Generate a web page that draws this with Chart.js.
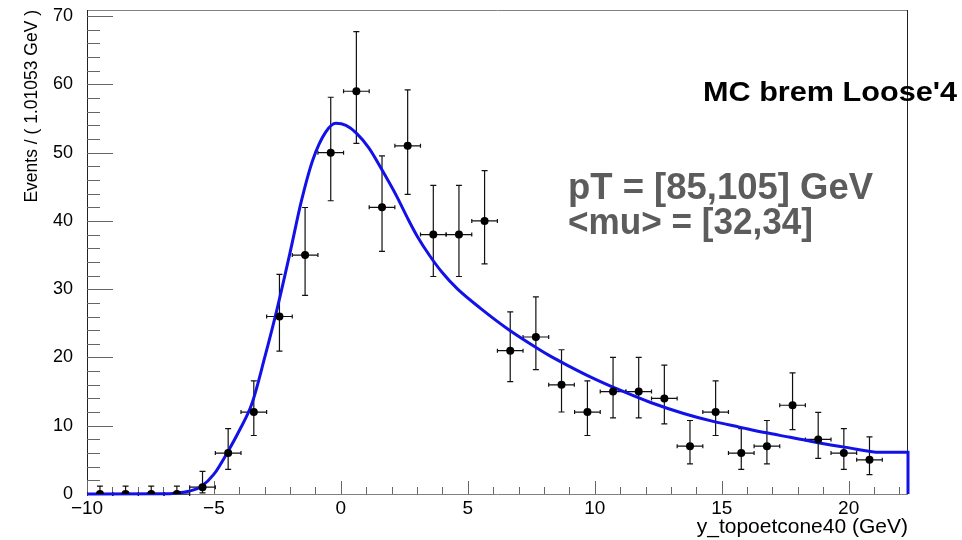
<!DOCTYPE html>
<html><head><meta charset="utf-8">
<script src="https://cdn.jsdelivr.net/npm/chart.js@4.4.1/dist/chart.umd.min.js"></script>
<style>html,body{margin:0;padding:0;background:#fff;} #wrap{width:962px;height:540px;}</style>
</head><body><div id="wrap"><canvas id="c" width="962" height="540"></canvas></div>
<script>
// ---- data ----
const binCenters = [-9.49,-8.48,-7.47,-6.46,-5.45,-4.44,-3.43,-2.42,-1.41,-0.40,0.61,1.62,2.63,3.64,4.65,5.66,6.67,7.68,8.69,9.71,10.72,11.73,12.74,13.75,14.76,15.77,16.78,17.79,18.80,19.81,20.82];
const counts     = [0,0,0,0,1,6,12,26,35,50,59,42,51,38,38,40,21,23,16,12,15,15,14,7,12,6,7,13,8,6,5];
const errLow     = [0,0,0,0,0.83,2.38,3.43,5.07,5.89,7.04,7.65,6.46,7.11,6.14,6.14,6.30,4.55,4.77,3.99,3.43,3.86,3.86,3.72,2.58,3.43,2.38,2.58,3.58,2.77,2.38,2.16];
const errHigh    = [1.15,1.15,1.15,1.15,2.30,3.58,4.58,6.17,6.97,8.12,8.72,7.53,8.19,7.22,7.22,7.38,5.68,5.89,5.13,4.58,5.00,5.00,4.87,3.77,4.58,3.58,3.77,4.73,3.95,3.58,3.38];
const binHalfWidth = 0.505;

const curveX = [-10,-7,-6.5,-6,-5.5,-5,-4.5,-4,-3.5,-3,-2.5,-2,-1.55,-1.1,-0.6,-0.2,0.2,0.6,1.1,1.6,2.2,2.6,3.0,3.5,4.0,4.6,5.5,6.6,7.5,8.2,9,9.8,11,12.2,13.5,14.7,15.7,16.7,17.7,18.6,19.9,21.25,22.337,22.337];
const curveY = [0,0.02,0.12,0.4,1.1,2.9,5.9,9.3,13.3,20.0,27.3,35.4,43.0,49.0,53.0,54.3,54.0,52.9,50.7,47.6,43.6,40.6,37.8,34.9,32.4,30.0,27.2,24.1,21.9,20.3,18.7,17.2,15.2,13.4,11.8,10.6,9.8,9.0,8.3,7.66,6.83,6.1,6.1,0];

const xTickValues = [-10,-5,0,5,10,15,20];
const yTickValues = [0,10,20,30,40,50,60,70];
const xTitle = 'y_topoetcone40 (GeV)';
const yTitle = 'Events / ( 1.01053 GeV )';
const labelMain = "MC brem Loose'4";
const labelLines = ['pT = [85,105] GeV', '<mu> = [32,34]'];

// ---- drawing ----
function fitText(ctx, text, left, baseline, width, font, color) {
  ctx.save();
  ctx.font = font; ctx.fillStyle = color; ctx.textAlign = 'left'; ctx.textBaseline = 'alphabetic';
  const w = ctx.measureText(text).width;
  ctx.translate(left, baseline); ctx.scale(width / w, 1);
  ctx.fillText(text, 0, 0);
  ctx.restore();
}

const rootPlugin = {
  id: 'rootStyle',
  beforeDatasetsDraw(chart) {
    const {ctx, chartArea: a, scales: {x, y}} = chart;
    ctx.save();
    // frame
    ctx.lineWidth = 1;
    ctx.strokeStyle = '#808080';
    ctx.beginPath(); ctx.moveTo(a.left, a.top + 0.5); ctx.lineTo(a.right, a.top + 0.5); ctx.stroke();
    ctx.beginPath(); ctx.moveTo(a.left, a.bottom + 0.5); ctx.lineTo(a.right, a.bottom + 0.5); ctx.stroke();
    ctx.strokeStyle = '#222';
    ctx.beginPath(); ctx.moveTo(a.left + 0.5, a.top); ctx.lineTo(a.left + 0.5, a.bottom); ctx.stroke();
    ctx.beginPath(); ctx.moveTo(a.right - 0.5, a.top); ctx.lineTo(a.right - 0.5, a.bottom); ctx.stroke();
    // y ticks
    ctx.strokeStyle = '#666';
    for (let v = 0; v <= 70; v += 2) {
      const py = Math.round(y.getPixelForValue(v)) + 0.5;
      const len = (v % 10 === 0) ? 26 : 13;
      ctx.beginPath(); ctx.moveTo(a.left, py); ctx.lineTo(a.left + len, py); ctx.stroke();
    }
    // x ticks
    for (let v = -10; v <= 22; v += 1) {
      const px = Math.round(x.getPixelForValue(v)) + 0.5;
      const len = (v % 5 === 0) ? 13 : 7;
      ctx.beginPath(); ctx.moveTo(px, a.bottom); ctx.lineTo(px, a.bottom - len); ctx.stroke();
    }
    // error bars
    ctx.beginPath(); ctx.rect(a.left, a.top, a.right - a.left, a.bottom - a.top + 2); ctx.clip();
    ctx.strokeStyle = '#111'; ctx.lineWidth = 1.2;
    for (let i = 0; i < counts.length; i++) {
      const px = x.getPixelForValue(binCenters[i]);
      const py = y.getPixelForValue(counts[i]);
      const yt = y.getPixelForValue(counts[i] + errHigh[i]);
      const yb = y.getPixelForValue(counts[i] - errLow[i]);
      const xl = x.getPixelForValue(binCenters[i] - binHalfWidth);
      const xr = x.getPixelForValue(binCenters[i] + binHalfWidth);
      ctx.beginPath();
      ctx.moveTo(px, yt); ctx.lineTo(px, yb);
      ctx.moveTo(px - 3, yt); ctx.lineTo(px + 3, yt);
      if (errLow[i] > 0) { ctx.moveTo(px - 3, yb); ctx.lineTo(px + 3, yb); }
      ctx.moveTo(xl, py); ctx.lineTo(xr, py);
      ctx.moveTo(xl, py - 2); ctx.lineTo(xl, py + 2);
      ctx.moveTo(xr, py - 2); ctx.lineTo(xr, py + 2);
      ctx.stroke();
    }
    ctx.restore();
  },
  afterDraw(chart) {
    const ctx = chart.ctx;
    fitText(ctx, labelMain, 703, 101, 254, 'bold 28px "Liberation Sans", Arial, sans-serif', '#000');
    fitText(ctx, labelLines[0], 568, 199, 305, 'bold 36px "Liberation Sans", Arial, sans-serif', '#5c5c5c');
    fitText(ctx, labelLines[1], 568, 234, 245, 'bold 36px "Liberation Sans", Arial, sans-serif', '#5c5c5c');
  }
};

new Chart(document.getElementById('c'), {
  data: {
    datasets: [
      {
        type: 'scatter',
        data: binCenters.map((v, i) => ({x: v, y: counts[i]})),
        pointRadius: 4, pointHoverRadius: 4,
        pointBackgroundColor: '#000', pointBorderColor: '#000', borderWidth: 0,
        order: 0
      },
      {
        type: 'line',
        data: curveX.map((v, i) => ({x: v, y: curveY[i]})),
        borderColor: '#1212e8', borderWidth: 3, pointRadius: 0,
        cubicInterpolationMode: 'monotone', fill: false, clip: 4,
        order: 1
      }
    ]
  },
  options: {
    responsive: false, animation: false,
    layout: {padding: {top: 10, right: 54, bottom: 0, left: 0}},
    plugins: {legend: {display: false}, tooltip: {enabled: false}},
    scales: {
      x: {
        type: 'linear', position: 'bottom', min: -10, max: 22.337,
        afterBuildTicks: s => { s.ticks = xTickValues.map(v => ({value: v})); },
        afterFit: s => { s.height = 46; s.paddingLeft = 0; s.paddingRight = 0; },
        grid: {display: false}, border: {display: false},
        ticks: {color: '#000', font: {family: '"Liberation Sans", Arial, sans-serif', size: 19}, padding: -5, maxRotation: 0, autoSkip: false,
                callback: v => (v < 0 ? '\u2212' + Math.abs(v) : String(v))},
        title: {display: true, text: xTitle, align: 'end', color: '#000',
                font: {family: '"Liberation Sans", Arial, sans-serif', size: 21}, padding: {top: 2, bottom: 0}}
      },
      y: {
        type: 'linear', position: 'left', min: 0, max: 70.9,
        afterBuildTicks: s => { s.ticks = yTickValues.map(v => ({value: v})); },
        afterFit: s => { s.width = 87; s.paddingTop = 0; s.paddingBottom = 0; },
        grid: {display: false}, border: {display: false},
        ticks: {color: '#000', font: {family: '"Liberation Sans", Arial, sans-serif', size: 18}, padding: 6},
        title: {display: true, text: yTitle, align: 'end', color: '#000',
                font: {family: '"Liberation Sans", Arial, sans-serif', size: 17.5}, padding: {top: 21.5, bottom: 0}}
      }
    }
  },
  plugins: [rootPlugin]
});
</script></body></html>
